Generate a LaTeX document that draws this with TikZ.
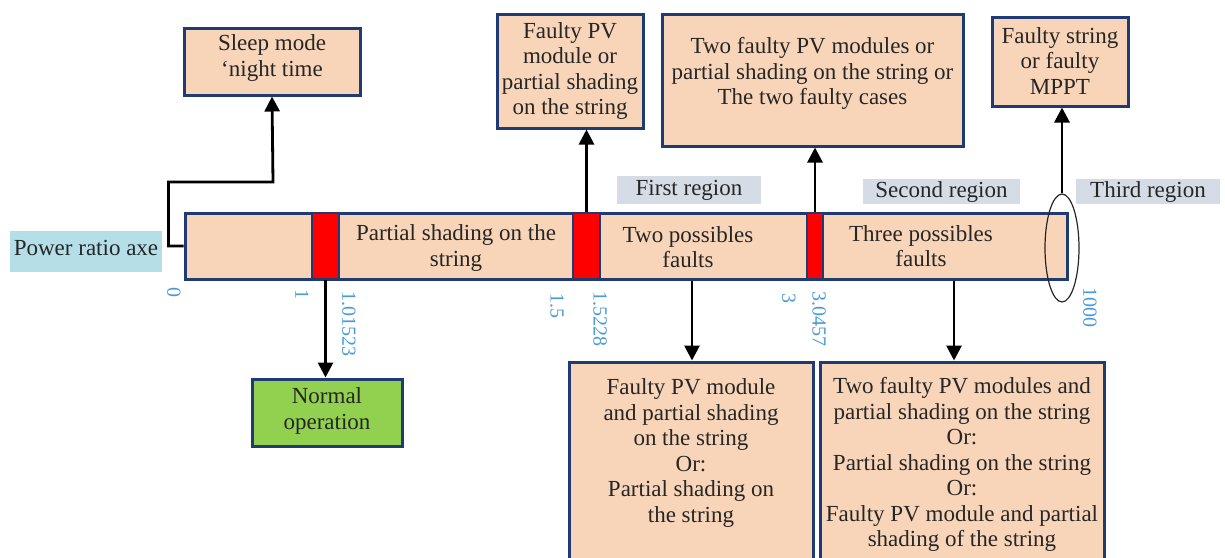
\documentclass[tikz,border=0pt]{standalone}
\usepackage{fontspec}
\setmainfont{Liberation Serif}
\usetikzlibrary{arrows.meta,shapes.geometric}
\definecolor{peach}{HTML}{F8D5B8}
\definecolor{navy}{HTML}{203A74}
\definecolor{redseg}{HTML}{FF0000}
\definecolor{okgreen}{HTML}{92D050}
\definecolor{axeblue}{HTML}{B4DEE8}
\definecolor{regiongray}{HTML}{D6DCE5}
\definecolor{tickblue}{HTML}{4A9AD8}
\definecolor{ink}{HTML}{262626}
\begin{document}
\begin{tikzpicture}[x=1pt,y=-1pt,
  box/.style={draw=navy,line width=3pt,fill=peach,inner sep=0pt},
  greenbox/.style={box,fill=okgreen},
  seg/.style={draw=navy,line width=2.5pt,fill=redseg,inner sep=0pt,minimum height=66pt},
  txt/.style={text=ink,align=center,inner sep=0pt,font=\fontsize{23}{25.5}\selectfont},
  label/.style={txt,fill=regiongray},
  tick/.style={text=tickblue,inner sep=0pt,rotate=-90,anchor=west,font=\fontsize{20}{22}\selectfont},
  arr/.style={draw=black,line width=2.8pt,-{Triangle[width=15pt,length=15pt]}},
]
\useasboundingbox (0,0) rectangle (1225,557);

% power ratio axis bar with its threshold segments
\node[box,minimum width=882pt,minimum height=66pt] (bar) at (626,246) {};
\node[seg,minimum width=27pt] (seg1) at (325.5,246) {};
\node[seg,minimum width=27pt] (seg2) at (586.5,246) {};
\node[seg,minimum width=16pt] (seg3) at (815,246) {};

\node[txt] (zone1) at (456,248) {Partial shading on the\\string};
\node[txt] (zone2) at (688,247) {Two possibles\\faults};
\node[txt] (zone3) at (921,246) {Three possibles\\faults};

% axis caption
\node[txt,fill=axeblue,minimum width=152pt,minimum height=41pt] (axe) at (86,251.5) {};
\node[txt] (axetxt) at (86,248) {Power ratio axe};

% region captions
\node[label,minimum width=144pt,minimum height=28pt] (r1) at (689,190) {First region};
\node[label,minimum width=157pt,minimum height=25pt] (r2) at (941.5,191.5) {Second region};
\node[label,minimum width=144pt,minimum height=25pt] (r3) at (1148,191.5) {Third region};

% upper outcome boxes
\node[box,minimum width=176pt,minimum height=67pt] (sleep) at (272,61.5) {};
\node[txt] (sleeptxt) at (272,58) {Sleep mode\\‘night time};

\node[box,minimum width=146pt,minimum height=114pt] (b2) at (570,71) {};
\node[txt] (b2txt) at (570,71) {Faulty PV\\module or\\partial shading\\on the string};

\node[box,minimum width=301pt,minimum height=132pt] (b3) at (812.5,80) {};
\node[txt] (b3txt) at (812.5,73.5) {Two faulty PV modules or\\partial shading on the string or\\The two faulty cases};

\node[box,minimum width=136pt,minimum height=89pt] (b4) at (1060,61.5) {};
\node[txt] (b4txt) at (1060,61) {Faulty string\\or faulty\\MPPT};

% lower outcome boxes
\node[greenbox,minimum width=150pt,minimum height=67pt] (normal) at (327,412.5) {};
\node[txt] (normaltxt) at (327,411) {Normal\\operation};

\node[box,minimum width=244pt,minimum height=213pt] (b5) at (691,468.5) {};
\node[txt] (b5txt) at (691,453) {Faulty PV module\\and partial shading\\on the string\\Or:\\Partial shading on\\the string};

\node[box,minimum width=284pt,minimum height=213pt] (b6) at (962,468.5) {};
\node[txt] (b6txt) at (962,464.5) {Two faulty PV modules and\\partial shading on the string\\Or:\\Partial shading on the string\\Or:\\Faulty PV module and partial\\shading of the string};

% third region marker
\node[draw=ink,line width=1.2pt,ellipse,minimum width=34pt,minimum height=108pt,inner sep=0pt] (ell) at (1062,248) {};

% axis values
\node[tick] (t0) at (174,287) {0};
\node[tick] (t1) at (302,289) {1};
\node[tick] (t2) at (349,291) {1.01523};
\node[tick] (t3) at (557,293) {1.5};
\node[tick] (t4) at (600,291) {1.5228};
\node[tick] (t5) at (789,293) {3};
\node[tick] (t6) at (819,291) {3.0457};
\node[tick] (t7) at (1090,287) {1000};

% connectors
\draw[arr] (bar.west) -- ++(-15,0) |- (273,182) -- (sleep.south);
\draw[arr] (seg2.north) -- (seg2.north |- b2.south);
\draw[arr] (seg3.north) -- (seg3.north |- b3.south);
\draw[arr] (ell.north) -- (ell.north |- b4.south);
\draw[arr] (seg1.south) -- (seg1.south |- normal.north);
\draw[arr] (bar.south -| 692,0) -- (692,0 |- b5.north);
\draw[arr] (bar.south -| 954,0) -- (954,0 |- b6.north);
\end{tikzpicture}
\end{document}
